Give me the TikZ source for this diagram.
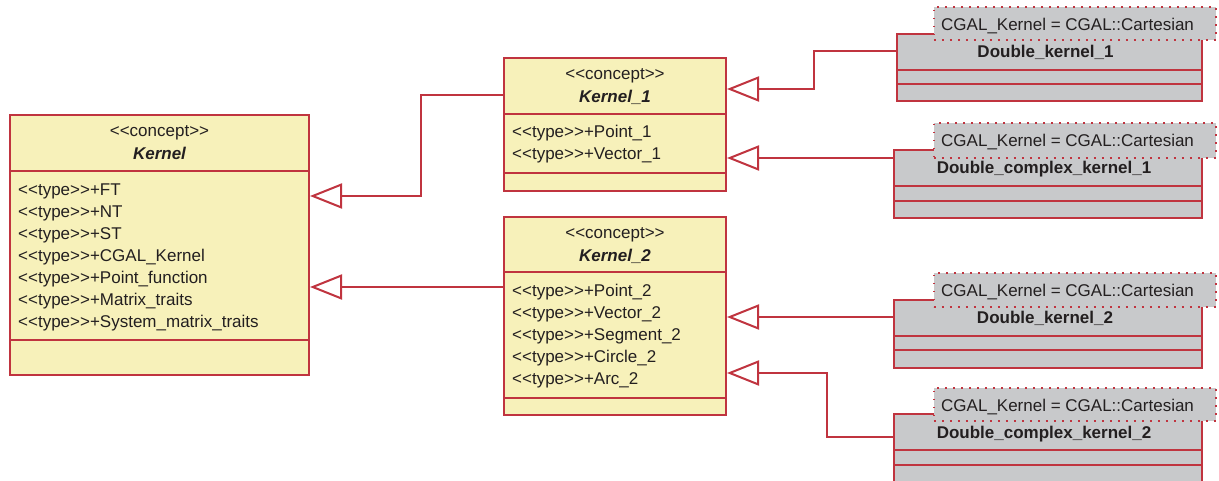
\documentclass[tikz,border=0pt]{standalone}
\usepackage{fontspec}
\setmainfont{Liberation Sans}[Ligatures=TeXOff]
\usetikzlibrary{arrows.meta,calc}
\definecolor{umlyellow}{HTML}{F7F1BA}
\definecolor{umlred}{HTML}{C0343F}
\definecolor{umlgray}{HTML}{C8C9CB}
\definecolor{umltext}{HTML}{231F20}
\tikzset{
  cls/.style={draw=umlred, fill=umlyellow, line width=2pt, rectangle, inner sep=0pt, anchor=north west},
  gcls/.style={draw=umlred, fill=umlgray, line width=2pt, rectangle, inner sep=0pt, anchor=north west},
  notebox/.style={draw=umlred, fill=umlgray, line width=1.8pt, dash pattern=on 1.6pt off 6.4pt, rectangle, inner sep=0pt, anchor=north west},
  divider/.style={draw=umlred, line width=2pt},
  txt/.style={font=\fontsize{17}{20}\selectfont, text=umltext, inner sep=0pt},
  stereo/.style={txt, anchor=base},
  cname/.style={txt, anchor=base, font=\fontsize{17}{20}\selectfont\bfseries\itshape},
  gname/.style={txt, anchor=base, font=\fontsize{17}{20}\selectfont\bfseries},
  attr/.style={txt, anchor=base west},
  gen/.style={draw=umlred, line width=2pt, -{Triangle[open, length=32pt, width=25pt, fill=white]}},
}
\begin{document}
\begin{tikzpicture}[x=1pt, y=-1pt]
\useasboundingbox (0,0) rectangle (1219,481);

% ---------- Kernel ----------
\node[cls, minimum width=299pt, minimum height=260pt] (k) at (9,114) {};
\draw[divider] ($(k.north west)+(0,57)$) -- ($(k.north east)+(0,57)$);
\draw[divider] ($(k.north west)+(0,226)$) -- ($(k.north east)+(0,226)$);
\node[stereo] (k-st) at ($(k.north)+(0,23)$) {<<concept>>};
\node[cname] (k-nm) at ($(k.north)+(0,46)$) {Kernel};
\foreach \t [count=\i from 0] in {FT,NT,ST,CGAL\_Kernel,Point\_function,Matrix\_traits,System\_matrix\_traits}
  \node[attr] (k-a\i) at ($(k.north west)+(9,81.5+22*\i)$) {<<type>>+\t};

% ---------- Kernel_1 ----------
\node[cls, minimum width=222pt, minimum height=133pt] (k1) at (503,57) {};
\draw[divider] ($(k1.north west)+(0,57)$) -- ($(k1.north east)+(0,57)$);
\draw[divider] ($(k1.north west)+(0,116)$) -- ($(k1.north east)+(0,116)$);
\node[stereo] (k1-st) at ($(k1.north)+(0,23)$) {<<concept>>};
\node[cname] (k1-nm) at ($(k1.north)+(0,46)$) {Kernel\_1};
\foreach \t [count=\i from 0] in {Point\_1,Vector\_1}
  \node[attr] (k1-a\i) at ($(k1.north west)+(9,80.5+22*\i)$) {<<type>>+\t};

% ---------- Kernel_2 ----------
\node[cls, minimum width=222pt, minimum height=198pt] (k2) at (503,216) {};
\draw[divider] ($(k2.north west)+(0,56)$) -- ($(k2.north east)+(0,56)$);
\draw[divider] ($(k2.north west)+(0,182)$) -- ($(k2.north east)+(0,182)$);
\node[stereo] (k2-st) at ($(k2.north)+(0,23)$) {<<concept>>};
\node[cname] (k2-nm) at ($(k2.north)+(0,46)$) {Kernel\_2};
\foreach \t [count=\i from 0] in {Point\_2,Vector\_2,Segment\_2,Circle\_2,Arc\_2}
  \node[attr] (k2-a\i) at ($(k2.north west)+(9,80.5+22*\i)$) {<<type>>+\t};

% ---------- Double_kernel_1 ----------
\node[gcls, minimum width=305pt, minimum height=67pt] (dk1) at (896,33) {};
\draw[divider] ($(dk1.north west)+(0,37)$) -- ($(dk1.north east)+(0,37)$);
\draw[divider] ($(dk1.north west)+(0,51)$) -- ($(dk1.north east)+(0,51)$);
\node[gname] (dk1-nm) at ($(dk1.north)+(-4,24.5)$) {Double\_kernel\_1};
\node[notebox, minimum width=282pt, minimum height=33pt] (n1) at (933,6) {};
\node[attr] (n1-t) at ($(n1.north west)+(8,24.5)$) {CGAL\_Kernel = CGAL::Cartesian};

% ---------- Double_complex_kernel_1 ----------
\node[gcls, minimum width=308pt, minimum height=68pt] (dck1) at (893,149) {};
\draw[divider] ($(dck1.north west)+(0,37)$) -- ($(dck1.north east)+(0,37)$);
\draw[divider] ($(dck1.north west)+(0,52)$) -- ($(dck1.north east)+(0,52)$);
\node[gname] (dck1-nm) at ($(dck1.north)+(-4,25)$) {Double\_complex\_kernel\_1};
\node[notebox, minimum width=282pt, minimum height=35pt] (n2) at (933,122) {};
\node[attr] (n2-t) at ($(n2.north west)+(8,24.5)$) {CGAL\_Kernel = CGAL::Cartesian};

% ---------- Double_kernel_2 ----------
\node[gcls, minimum width=308pt, minimum height=68pt] (dk2) at (893,299) {};
\draw[divider] ($(dk2.north west)+(0,37)$) -- ($(dk2.north east)+(0,37)$);
\draw[divider] ($(dk2.north west)+(0,51)$) -- ($(dk2.north east)+(0,51)$);
\node[gname] (dk2-nm) at ($(dk2.north)+(-3,24.5)$) {Double\_kernel\_2};
\node[notebox, minimum width=282pt, minimum height=34pt] (n3) at (933,272) {};
\node[attr] (n3-t) at ($(n3.north west)+(8,24.5)$) {CGAL\_Kernel = CGAL::Cartesian};

% ---------- Double_complex_kernel_2 ----------
\node[gcls, minimum width=308pt, minimum height=68pt] (dck2) at (893,413) {};
\draw[divider] ($(dck2.north west)+(0,37)$) -- ($(dck2.north east)+(0,37)$);
\draw[divider] ($(dck2.north west)+(0,52)$) -- ($(dck2.north east)+(0,52)$);
\node[gname] (dck2-nm) at ($(dck2.north)+(-4,25)$) {Double\_complex\_kernel\_2};
\node[notebox, minimum width=282pt, minimum height=33pt] (n4) at (933,387) {};
\node[attr] (n4-t) at ($(n4.north west)+(8,24.5)$) {CGAL\_Kernel = CGAL::Cartesian};

% ---------- generalizations ----------
\coordinate (b1) at (421,196);
\draw[gen] ($(k1.north west)+(0,38)$) -| (b1) -- (b1 -| k.east);
\coordinate (p2) at ($(k2.north west)+(0,71)$);
\draw[gen] (p2) -- (p2 -| k.east);
\coordinate (b3) at (814,89);
\draw[gen] ($(dk1.north west)+(0,18)$) -| (b3) -- (b3 -| k1.east);
\coordinate (p4) at ($(dck1.north west)+(0,9)$);
\draw[gen] (p4) -- (p4 -| k1.east);
\coordinate (p5) at ($(dk2.north west)+(0,18)$);
\draw[gen] (p5) -- (p5 -| k2.east);
\coordinate (b6) at (827,373);
\draw[gen] ($(dck2.north west)+(0,24)$) -| (b6) -- (b6 -| k2.east);
\end{tikzpicture}
\end{document}
